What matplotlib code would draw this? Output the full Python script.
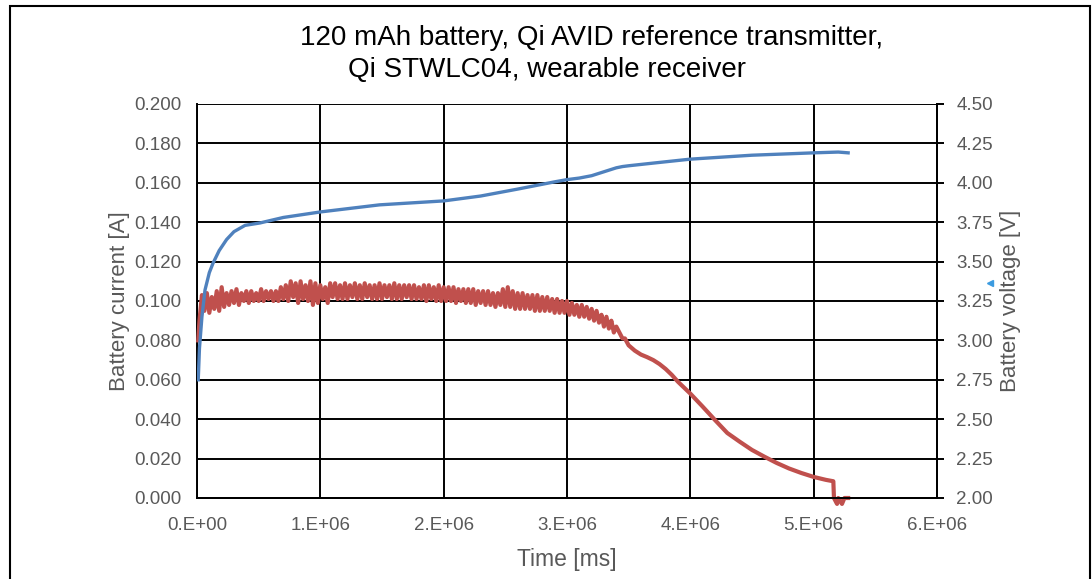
import numpy as np
import matplotlib
matplotlib.use("Agg")
import matplotlib.pyplot as plt
from matplotlib.patches import Rectangle

plt.rcParams['font.family'] = ['Liberation Sans', 'DejaVu Sans']

# Battery current, noisy part (logged every 2e4 ms starting at 2e4 ms)
noise_start = 2e4
noise_step = 2e4
current_noisy = [
    0.090, 0.103, 0.095, 0.104, 0.094, 0.102, 0.096, 0.105, 0.095, 0.107,
    0.097, 0.104, 0.098, 0.105, 0.099, 0.106, 0.098, 0.104, 0.100, 0.105,
    0.099, 0.105, 0.100, 0.104, 0.100, 0.106, 0.100, 0.105, 0.101, 0.105,
    0.100, 0.105, 0.100, 0.107, 0.101, 0.108, 0.100, 0.110, 0.102, 0.109,
    0.099, 0.110, 0.101, 0.108, 0.100, 0.110, 0.098, 0.109, 0.099, 0.108,
    0.101, 0.107, 0.099, 0.109, 0.102, 0.109, 0.101, 0.108, 0.101, 0.109,
    0.101, 0.108, 0.102, 0.109, 0.101, 0.108, 0.101, 0.109, 0.102, 0.108,
    0.101, 0.108, 0.101, 0.109, 0.101, 0.108, 0.102, 0.108, 0.101, 0.109,
    0.101, 0.108, 0.101, 0.108, 0.102, 0.108, 0.101, 0.108, 0.101, 0.107,
    0.101, 0.108, 0.100, 0.108, 0.101, 0.107, 0.100, 0.108, 0.100, 0.107,
    0.100, 0.107, 0.100, 0.107, 0.099, 0.106, 0.100, 0.106, 0.099, 0.106,
    0.099, 0.106, 0.098, 0.105, 0.099, 0.105, 0.098, 0.105, 0.098, 0.104,
    0.097, 0.104, 0.098, 0.106, 0.097, 0.107, 0.097, 0.105, 0.096, 0.104,
    0.096, 0.104, 0.096, 0.103, 0.096, 0.103, 0.095, 0.103, 0.095, 0.102,
    0.095, 0.102, 0.095, 0.101, 0.094, 0.101, 0.094, 0.100, 0.094, 0.100,
    0.093, 0.099, 0.093, 0.098, 0.092, 0.098, 0.092, 0.097, 0.091, 0.096,
    0.090, 0.095, 0.089, 0.093, 0.087, 0.092, 0.086, 0.090, 0.084, 0.087,
]

# Battery current, tail after the noisy part
time_tail = [3.45e6, 3.47e6, 3.50e6, 3.55e6, 3.60e6, 3.65e6, 3.70e6, 3.75e6,
             3.80e6, 3.85e6, 3.90e6, 4.00e6, 4.10e6, 4.20e6, 4.30e6, 4.40e6,
             4.50e6, 4.60e6, 4.70e6, 4.80e6, 4.90e6, 5.00e6, 5.10e6, 5.16e6,
             5.165e6, 5.19e6, 5.20e6, 5.23e6, 5.25e6, 5.28e6]
current_tail = [0.081, 0.081, 0.0775, 0.0748, 0.0728, 0.0715, 0.070, 0.068,
                0.0655, 0.0625, 0.059, 0.053, 0.0464, 0.0396, 0.033, 0.0286,
                0.0244, 0.021, 0.0178, 0.015, 0.0127, 0.0107, 0.0092, 0.0085,
                0.0, -0.003, 0.0, -0.003, 0.0, 0.0]

# Battery voltage
time_v = [1e4, 2e4, 4e4, 6.5e4, 1e5, 1.3e5, 1.8e5, 2.4e5, 3e5, 3.9e5, 5.1e5,
          7e5, 1.0e6, 1.48e6, 2.0e6, 2.3e6, 2.6e6, 2.9e6, 3.0e6, 3.1e6, 3.2e6,
          3.3e6, 3.4e6, 3.45e6, 3.5e6, 3.7e6, 4.0e6, 4.5e6, 5.0e6, 5.2e6, 5.28e6]
voltage = [2.75, 2.95, 3.15, 3.32, 3.43, 3.49, 3.57, 3.64, 3.69, 3.73, 3.745,
           3.78, 3.815, 3.86, 3.885, 3.916, 3.96, 4.006, 4.02, 4.03, 4.045,
           4.07, 4.095, 4.103, 4.108, 4.125, 4.15, 4.175, 4.19, 4.195, 4.19]

x_ticks = [0, 1e6, 2e6, 3e6, 4e6, 5e6, 6e6]
x_labels = ['0.E+00', '1.E+06', '2.E+06', '3.E+06', '4.E+06', '5.E+06', '6.E+06']

time_noisy = noise_start + noise_step * np.arange(len(current_noisy))
time_i = np.concatenate([[1e4], time_noisy, time_tail])
current = np.concatenate([[0.080], current_noisy, current_tail])

fig = plt.figure(figsize=(10.92, 5.79), dpi=100)
ax = fig.add_axes([0.1804, 0.1399, 0.858 - 0.1804, 0.8204 - 0.1399])
ax2 = ax.twinx()

grey = '#595959'
ax.plot(time_i, current, color='#C0504D', lw=3.0, clip_on=False, zorder=3)
ax2.plot(time_v, voltage, color='#4F81BD', lw=2.4, zorder=4)

ax.set_xlim(0, 6e6)
ax.set_ylim(0, 0.2)
ax2.set_ylim(2.0, 4.5)
ax.set_yticks(np.linspace(0, 0.2, 11))
ax.set_yticklabels([f'{v:.3f}' for v in np.linspace(0, 0.2, 11)])
ax2.set_yticks(np.linspace(2.0, 4.5, 11))
ax2.set_yticklabels([f'{v:.2f}' for v in np.linspace(2.0, 4.5, 11)])
ax.set_xticks(x_ticks)
ax.set_xticklabels(x_labels)

ax.grid(True, color='black', lw=1.4)
ax.set_axisbelow(True)
for a in (ax, ax2):
    for s in a.spines.values():
        s.set_color('black')
        s.set_linewidth(1.4)
    a.spines['top'].set_visible(False)
ax2.spines['left'].set_visible(False)
ax.tick_params(axis='y', length=0, labelsize=13.5, labelcolor=grey, pad=11)
ax.tick_params(axis='x', length=0, labelsize=13.5, labelcolor=grey, pad=14)
ax2.tick_params(axis='y', length=5, width=1.4, labelsize=13.5, labelcolor=grey, pad=9)

ax.set_xlabel('Time [ms]', fontsize=16.5, color=grey, labelpad=10)
ax.set_ylabel('Battery current [A]', fontsize=16, color=grey, labelpad=3)
ax2.set_ylabel('Battery voltage [V]', fontsize=16, color=grey, labelpad=5)

fig.text(300 / 1092, 1 - 38 / 579, '120 mAh battery, Qi AVID reference transmitter,',
         fontsize=20, va='center', ha='left')
fig.text(348 / 1092, 1 - 70 / 579, 'Qi STWLC04, wearable receiver',
         fontsize=20, va='center', ha='left')

# small marker artifact next to the right axis label
fig.lines.append(plt.Line2D([990 / 1092], [1 - 283 / 579], marker='<', ms=4,
                            color='#3b9be0', transform=fig.transFigure))

# chart frame
fig.patches.append(Rectangle((10 / 1092, -0.05), 1080 / 1092, 1.05 - 6 / 579,
                             transform=fig.transFigure, fill=False,
                             edgecolor='black', lw=1.5))

fig.savefig('out.png', dpi=100)
